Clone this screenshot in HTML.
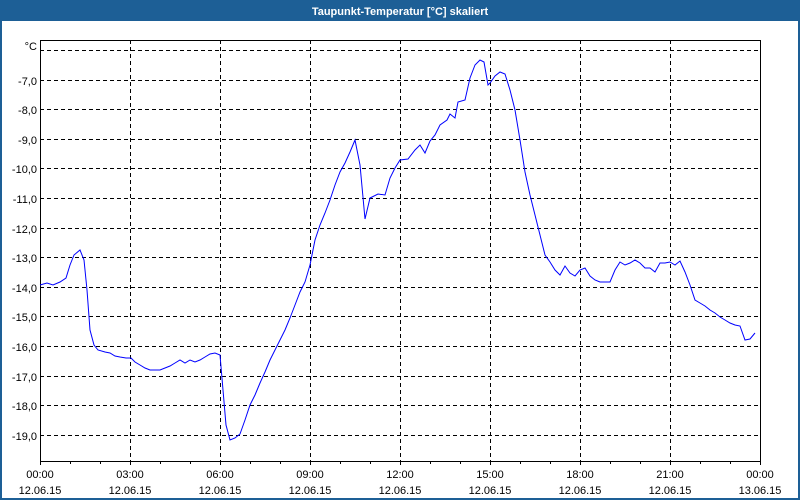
<!DOCTYPE html><html><head><style>body{margin:0;}svg{display:block}text{font-family:"Liberation Sans",sans-serif;font-size:11px;fill:#000}</style></head><body>
<svg width="800" height="500" xmlns="http://www.w3.org/2000/svg">
<rect width="800" height="500" fill="#1d5f96"/>
<rect x="2" y="21" width="796" height="477" fill="#fff"/>
<text x="400" y="15" text-anchor="middle" style="fill:#fff;font-weight:bold;font-size:11px">Taupunkt-Temperatur [°C] skaliert</text>
<g stroke="#000" stroke-dasharray="4,3" stroke-width="1">
<line x1="40" x2="760" y1="50.5" y2="50.5"/><line x1="40" x2="760" y1="80.5" y2="80.5"/><line x1="40" x2="760" y1="109.5" y2="109.5"/><line x1="40" x2="760" y1="139.5" y2="139.5"/><line x1="40" x2="760" y1="168.5" y2="168.5"/><line x1="40" x2="760" y1="198.5" y2="198.5"/><line x1="40" x2="760" y1="228.5" y2="228.5"/><line x1="40" x2="760" y1="257.5" y2="257.5"/><line x1="40" x2="760" y1="287.5" y2="287.5"/><line x1="40" x2="760" y1="316.5" y2="316.5"/><line x1="40" x2="760" y1="346.5" y2="346.5"/><line x1="40" x2="760" y1="376.5" y2="376.5"/><line x1="40" x2="760" y1="405.5" y2="405.5"/><line x1="40" x2="760" y1="435.5" y2="435.5"/>
<line y1="40" y2="461" x1="130.5" x2="130.5"/><line y1="40" y2="461" x1="220.5" x2="220.5"/><line y1="40" y2="461" x1="310.5" x2="310.5"/><line y1="40" y2="461" x1="400.5" x2="400.5"/><line y1="40" y2="461" x1="490.5" x2="490.5"/><line y1="40" y2="461" x1="580.5" x2="580.5"/><line y1="40" y2="461" x1="670.5" x2="670.5"/>
</g>
<rect x="40.5" y="40.5" width="720" height="421" fill="none" stroke="#000"/>
<g stroke="#000">
<path d="M40.5 461v4M70.5 461v3M100.5 461v3M130.5 461v4M160.5 461v3M190.5 461v3M220.5 461v4M250.5 461v3M280.5 461v3M310.5 461v4M340.5 461v3M370.5 461v3M400.5 461v4M430.5 461v3M460.5 461v3M490.5 461v4M520.5 461v3M550.5 461v3M580.5 461v4M610.5 461v3M640.5 461v3M670.5 461v4M700.5 461v3M730.5 461v3M760.5 461v4"/>
</g>
<g text-anchor="end">
<text x="37" y="50">°C</text>
<text x="37" y="85">-7,0</text><text x="37" y="114">-8,0</text><text x="37" y="144">-9,0</text><text x="37" y="173">-10,0</text><text x="37" y="203">-11,0</text><text x="37" y="233">-12,0</text><text x="37" y="262">-13,0</text><text x="37" y="292">-14,0</text><text x="37" y="321">-15,0</text><text x="37" y="351">-16,0</text><text x="37" y="381">-17,0</text><text x="37" y="410">-18,0</text><text x="37" y="440">-19,0</text>
</g>
<g text-anchor="middle">
<text x="40" y="478">00:00</text><text x="40" y="494">12.06.15</text>
<text x="130" y="478">03:00</text><text x="130" y="494">12.06.15</text>
<text x="220" y="478">06:00</text><text x="220" y="494">12.06.15</text>
<text x="310" y="478">09:00</text><text x="310" y="494">12.06.15</text>
<text x="400" y="478">12:00</text><text x="400" y="494">12.06.15</text>
<text x="490" y="478">15:00</text><text x="490" y="494">12.06.15</text>
<text x="580" y="478">18:00</text><text x="580" y="494">12.06.15</text>
<text x="670" y="478">21:00</text><text x="670" y="494">12.06.15</text>
<text x="760" y="478">00:00</text><text x="760" y="494">13.06.15</text>
</g>
<polyline fill="none" stroke="#0000ff" stroke-width="1" points="40,285 47,283 53,285 60,282 66,278 70,265 74,255 80,250 84,260 87,290 90,330 94,345 98,350 105,352 110,353 115,356 120,357 126,358 131,358 135,362 140,365 145,368 150,370 155,370 160,370 165,368 170,366 175,363 180,360 185,363 190,360 195,362 200,360 205,357 210,354 215,353 220,355 223,390 226,425 230,440 235,438 240,434 245,420 250,405 255,395 260,383 265,372 270,360 275,350 280,340 285,330 290,318 295,305 300,292 305,282 310,265 315,240 320,225 325,213 330,200 335,185 340,172 345,163 350,152 355,140 360,165 365,219 370,198 378,194 385,195 390,178 395,168 400,160 408,159 415,150 420,145 425,153 430,141 435,135 440,125 447,120 450,114 455,118 458,102 465,100 470,78 475,65 480,60 484,62 488,85 490,83 495,76 500,72 505,74 510,90 515,110 520,140 525,172 530,195 535,215 540,235 545,255 550,262 555,270 560,275 565,266 570,273 575,276 580,270 585,268 590,276 595,280 600,282 605,282 610,282 615,270 620,262 625,265 630,263 635,260 640,263 645,268 650,268 655,272 660,263 665,263 670,262 675,265 680,261 685,272 690,285 695,300 700,303 705,306 710,310 715,313 720,317 725,320 730,323 735,325 740,326 745,340 750,339 755,333"/>
</svg></body></html>
